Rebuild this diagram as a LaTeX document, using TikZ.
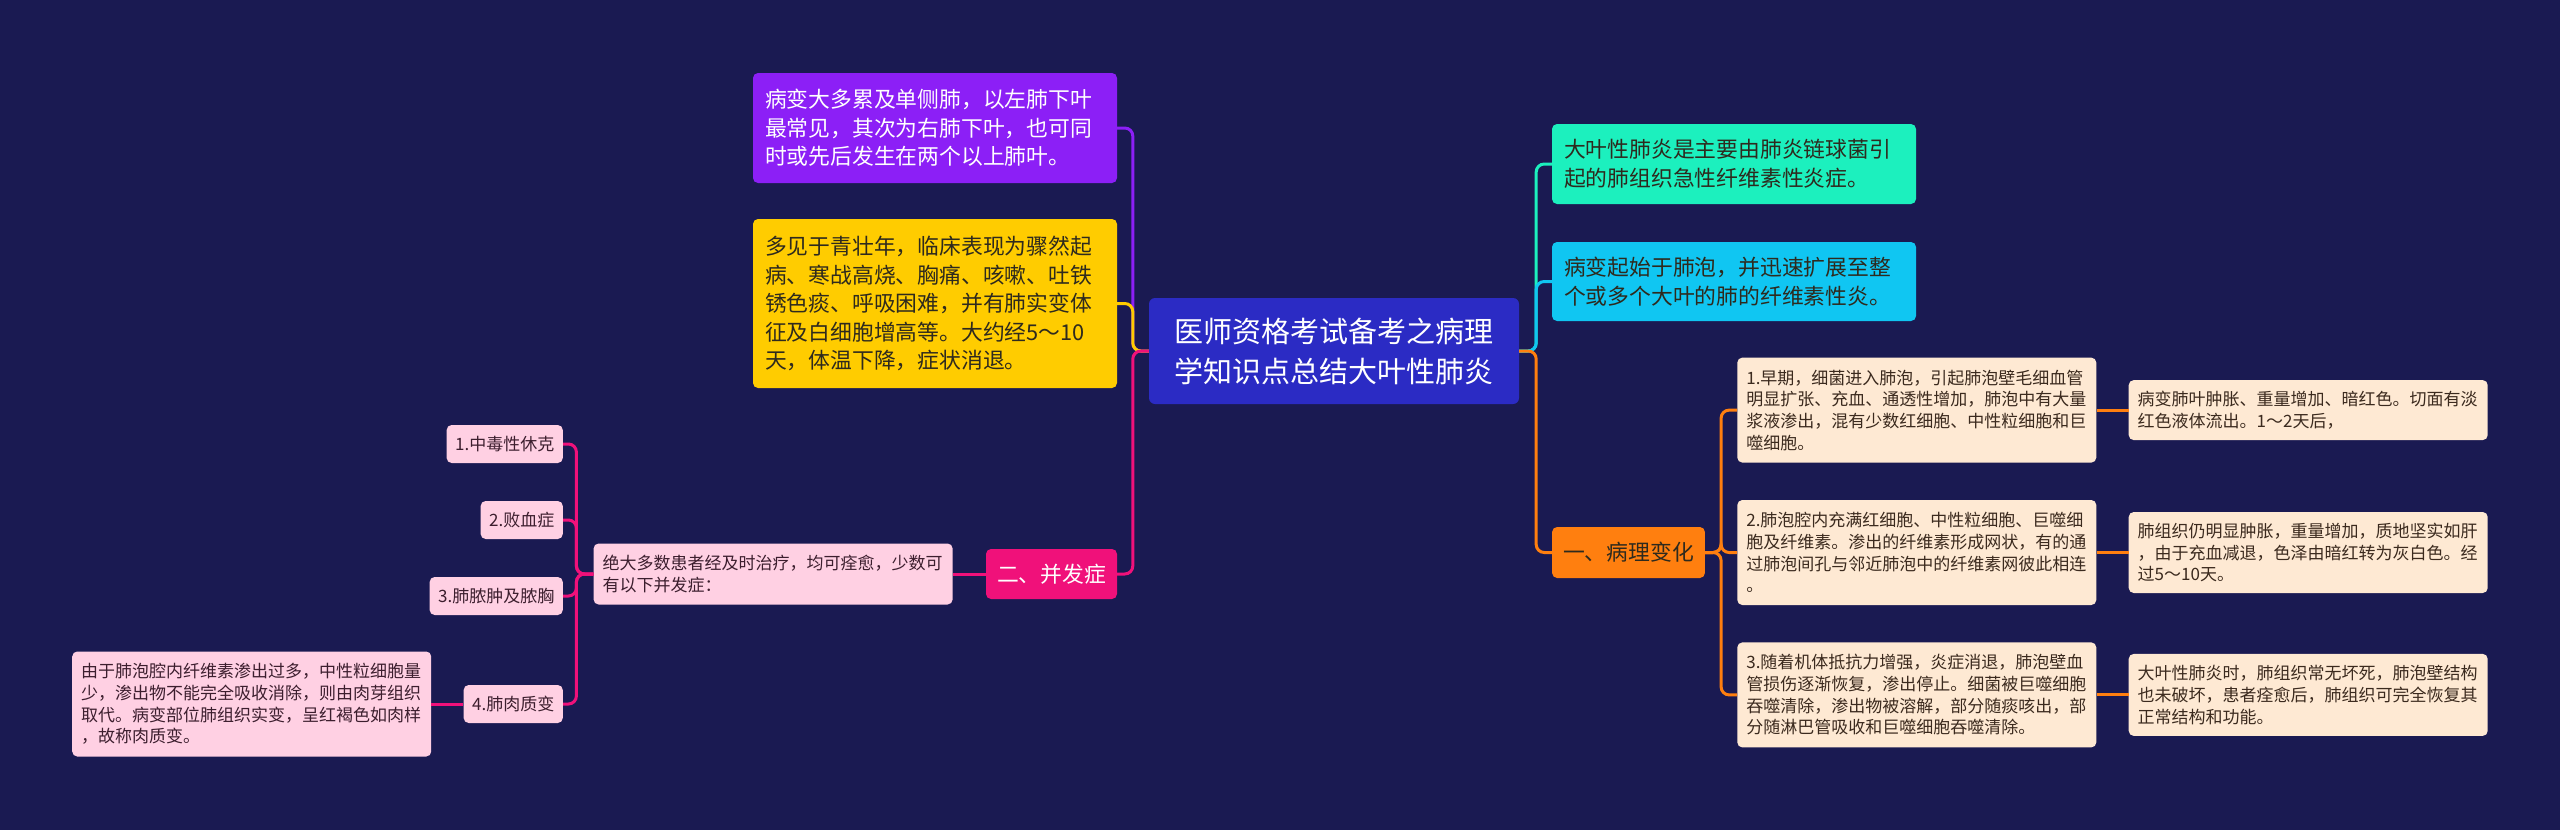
\documentclass[tikz,border=0pt]{standalone}
\usepackage{fontspec}
\setmainfont{Noto Sans CJK SC}
\usetikzlibrary{positioning}

\definecolor{bgnavy}{HTML}{1A1A52}
\definecolor{rootblue}{HTML}{2B2BC4}
\definecolor{violet}{HTML}{8C1FF6}
\definecolor{gold}{HTML}{FFCC00}
\definecolor{aqua}{HTML}{1CF0BE}
\definecolor{sky}{HTML}{10C6F2}
\definecolor{tangerine}{HTML}{FF7F0F}
\definecolor{rose}{HTML}{F0117A}
\definecolor{peach}{HTML}{FEE9D3}
\definecolor{blush}{HTML}{FFD0E3}
\definecolor{darkink}{HTML}{2E2A1E}
\definecolor{peachink}{HTML}{3B2A1E}
\definecolor{blushink}{HTML}{3C1E2E}

\begin{document}
\begin{tikzpicture}[x=1pt, y=-1pt,
    root/.style = {fill=rootblue, text=white, rounded corners=6pt, align=center, minimum width=370pt, minimum height=106pt, font=\fontsize{29pt}{40pt}\selectfont},
    note/.style = {rounded corners=5pt, inner xsep=12pt, inner ysep=12pt, align=left, text width=340pt, font=\fontsize{21.8pt}{28.5pt}\selectfont},
    head/.style = {rounded corners=5pt, inner xsep=11pt, minimum height=51pt, font=\fontsize{21.8pt}{28.5pt}\selectfont},
    leaf/.style = {rounded corners=5pt, inner xsep=9pt, inner ysep=9pt, align=left, text width=341pt, font=\fontsize{17pt}{21.7pt}\selectfont},
    tag/.style = {rounded corners=5pt, fill=blush, text=blushink, inner xsep=8.5pt, minimum height=38pt, anchor=east, font=\fontsize{17pt}{21.7pt}\selectfont},
    link/.style = {line width=3pt, rounded corners=8pt}]
    \fill[bgnavy] (0,0) rectangle (2560,830);
    \useasboundingbox (0,0) rectangle (2560,830);

    % centre
    \node[root] (root) at (1334,351) {医师资格考试备考之病理\\学知识点总结大叶性肺炎};

    % left branch
    \node[note, fill=violet, text=white, minimum height=110pt] (pv) at (935,128) {病变大多累及单侧肺，以左肺下叶\\最常见，其次为右肺下叶，也可同\\时或先后发生在两个以上肺叶。};
    \node[note, fill=gold, text=darkink, minimum height=169pt] (py) at (935,303.5) {多见于青壮年，临床表现为骤然起\\病、寒战高烧、胸痛、咳嗽、吐铁\\锈色痰、呼吸困难，并有肺实变体\\征及白细胞增高等。大约经5～10\\天，体温下降，症状消退。};
    \node[head, fill=rose, text=white, minimum height=50pt] (p2) at (1051.5,574) {二、并发症};
    \node[leaf, fill=blush, text=blushink, minimum height=61pt] (m2) [left=33pt of p2] {绝大多数患者经及时治疗，均可痊愈，少数可\\有以下并发症：};
    \node[tag] (c1) at (563,444) {1.中毒性休克};
    \node[tag] (c2) at (563,520) {2.败血症};
    \node[tag] (c3) at (563,596) {3.肺脓肿及脓胸};
    \node[tag] (c4) at (563,704) {4.肺肉质变};
    \node[leaf, fill=blush, text=blushink, minimum height=105pt] (d4) [left=32pt of c4] {由于肺泡腔内纤维素渗出过多，中性粒细胞量\\少，渗出物不能完全吸收消除，则由肉芽组织\\取代。病变部位肺组织实变，呈红褐色如肉样\\，故称肉质变。};

    % right branch
    \node[note, fill=aqua, text=darkink, minimum height=80pt] (ta) at (1734,164) {大叶性肺炎是主要由肺炎链球菌引\\起的肺组织急性纤维素性炎症。};
    \node[note, fill=sky, text=darkink, minimum height=79pt] (tb) at (1734,281.5) {病变起始于肺泡，并迅速扩展至整\\个或多个大叶的肺的纤维素性炎。};
    \node[head, fill=tangerine, text=darkink] (o1) at (1628.5,552.5) {一、病理变化};
    \node[leaf, fill=peach, text=peachink, minimum height=105pt] (b2) [right=32pt of o1] {2.肺泡腔内充满红细胞、中性粒细胞、巨噬细\\胞及纤维素。渗出的纤维素形成网状，有的通\\过肺泡间孔与邻近肺泡中的纤维素网彼此相连\\。};
    \node[leaf, fill=peach, text=peachink, minimum height=105pt] (b1) [above=37pt of b2] {1.早期，细菌进入肺泡，引起肺泡壁毛细血管\\明显扩张、充血、通透性增加，肺泡中有大量\\浆液渗出，混有少数红细胞、中性粒细胞和巨\\噬细胞。};
    \node[leaf, fill=peach, text=peachink, minimum height=105pt] (b3) [below=37pt of b2] {3.随着机体抵抗力增强，炎症消退，肺泡壁血\\管损伤逐渐恢复，渗出停止。细菌被巨噬细胞\\吞噬清除，渗出物被溶解，部分随痰咳出，部\\分随淋巴管吸收和巨噬细胞吞噬清除。};
    \node[leaf, fill=peach, text=peachink, minimum height=60pt] (r1) [right=32pt of b1] {病变肺叶肿胀、重量增加、暗红色。切面有淡\\红色液体流出。1～2天后，};
    \node[leaf, fill=peach, text=peachink, minimum height=81pt] (r2) [right=32pt of b2] {肺组织仍明显肿胀，重量增加，质地坚实如肝\\，由于充血减退，色泽由暗红转为灰白色。经\\过5～10天。};
    \node[leaf, fill=peach, text=peachink, minimum height=82pt] (r3) [right=32pt of b3] {大叶性肺炎时，肺组织常无坏死，肺泡壁结构\\也未破坏，患者痊愈后，肺组织可完全恢复其\\正常结构和功能。};

    % connectors
    \draw[link, violet] (root.west) -- ++(-16,0) |- (pv.east);
    \draw[link, gold] (root.west) -- ++(-16,0) |- (py.east);
    \draw[link, rose] (root.west) -- ++(-16,0) |- (p2.east);
    \draw[link, rose] (p2.west) -- (m2.east);
    \foreach \c in {c1,c2,c3,c4}
        \draw[link, rose] (m2.west) -- ++(-17,0) |- (\c.east);
    \draw[link, rose] (c4.west) -- (d4.east);
    \draw[link, aqua] (root.east) -- ++(17,0) |- (ta.west);
    \draw[link, sky] (root.east) -- ++(17,0) |- (tb.west);
    \draw[link, tangerine] (root.east) -- ++(17,0) |- (o1.west);
    \foreach \b in {b1,b2,b3}
        \draw[link, tangerine] (o1.east) -- ++(16,0) |- (\b.west);
    \draw[link, tangerine] (b1.east) -- (r1.west);
    \draw[link, tangerine] (b2.east) -- (r2.west);
    \draw[link, tangerine] (b3.east) -- (r3.west);
\end{tikzpicture}
\end{document}
